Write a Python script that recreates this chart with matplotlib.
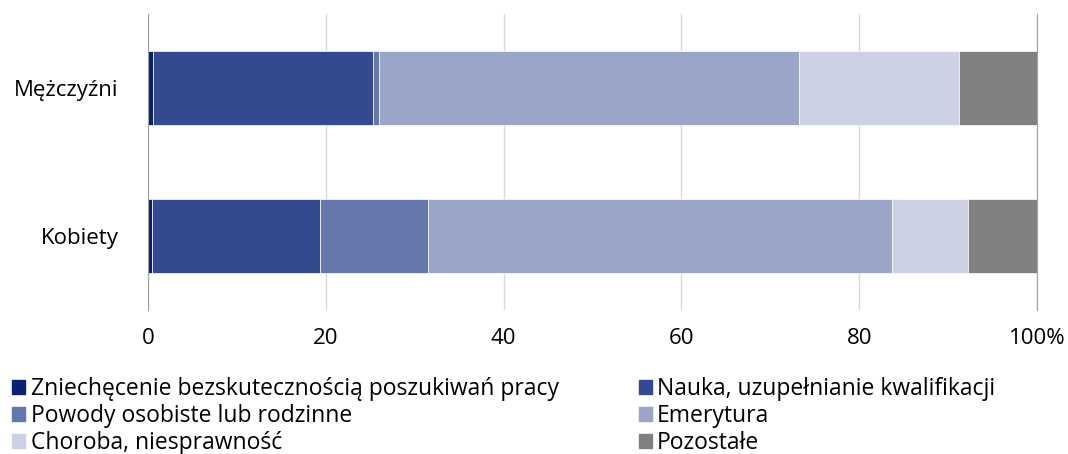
import numpy as np
import matplotlib.pyplot as plt
from matplotlib.patches import Patch

plt.rcParams['font.family'] = ['Open Sans', 'DejaVu Sans']

groups = ['Kobiety', 'Mężczyźni']
series = ['Zniechęcenie bezskutecznością poszukiwań pracy',
          'Nauka, uzupełnianie kwalifikacji',
          'Powody osobiste lub rodzinne',
          'Emerytura',
          'Choroba, niesprawność',
          'Pozostałe']
# shares in percent: [Kobiety, Mężczyźni]
zniechecenie = [0.4, 0.6]
nauka = [19.0, 24.7]
powody = [12.1, 0.7]
emerytura = [52.2, 47.2]
choroba = [8.5, 18.0]
pozostale = [7.8, 8.8]
colors = ['#0b2170', '#334a91', '#6677ab', '#9aa5c8', '#ccd2e4', '#808080']

values = [zniechecenie, nauka, powody, emerytura, choroba, pozostale]

fig = plt.figure(figsize=(10.68, 4.54), dpi=100)
ax = fig.add_axes([148 / 1068, 1 - 310 / 454, 889 / 1068, 296 / 454])

y = np.arange(len(groups))
left = np.zeros(len(groups))
for name, vals, col in zip(series, values, colors):
    ax.barh(y, vals, left=left, height=0.5, color=col, edgecolor='white',
            linewidth=0.5, label=name, zorder=3)
    left += np.array(vals)

ax.set_xlim(0, 100)
ax.set_ylim(-0.5, 1.5)
ax.set_yticks(y)
ax.set_yticklabels(groups, fontsize=16)
ax.set_xticks([0, 20, 40, 60, 80, 100])
ax.set_xticklabels(['0', '20', '40', '60', '80', '100%'], fontsize=16)
ax.tick_params(axis='both', length=0)
ax.tick_params(axis='y', pad=21)
ax.tick_params(axis='x', pad=13)
ax.grid(axis='x', color='#d9d9d9', linewidth=1, zorder=0)
for s in ['top', 'bottom']:
    ax.spines[s].set_visible(False)
ax.spines['left'].set_color('#a0a0a0')
ax.spines['right'].set_color('#a0a0a0')
ax.spines['left'].set_zorder(4)

handles = [Patch(color=c) for c in colors]
order = [0, 2, 4, 1, 3, 5]
fig.legend([handles[i] for i in order], [series[i] for i in order],
           ncol=2, loc='upper left', bbox_to_anchor=(0.003, 0.19),
           frameon=False, fontsize=16.5, handlelength=0.55, handleheight=0.55,
           handletextpad=0.25, labelspacing=0.13, columnspacing=3.5,
           borderaxespad=0)

fig.savefig('out.png', dpi=100)
